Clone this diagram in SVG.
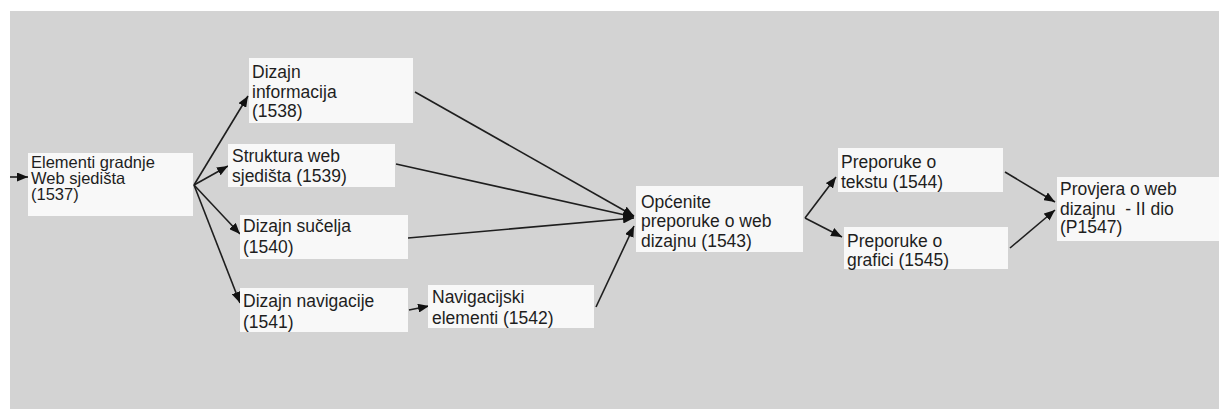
<svg xmlns="http://www.w3.org/2000/svg" width="1219" height="409" viewBox="0 0 1219 409">
<defs>
<style>
.bg{fill:#d3d3d3}
.n{fill:#f8f8f8}
.t{font-family:"Liberation Sans",Arial,sans-serif;font-size:17.5px;fill:#1e1e1e}
.c{stroke:#1e1e1e;stroke-width:1.6;fill:none;marker-end:url(#ah)}
</style>
<marker id="ah" viewBox="0 0 11 9" refX="11" refY="4.5" markerWidth="11" markerHeight="9" markerUnits="userSpaceOnUse" orient="auto">
<path d="M0,0 L11,4.5 L0,9 Z" fill="#111"/>
</marker>
</defs>
<rect x="0" y="0" width="1219" height="409" fill="#ffffff"/>
<rect class="bg" x="10" y="11" width="1209" height="398"/>

<g id="connectors">
<line class="c" x1="10" y1="177" x2="28" y2="177"/>
<line class="c" x1="194" y1="185" x2="248" y2="96"/>
<line class="c" x1="194" y1="185" x2="228" y2="166"/>
<line class="c" x1="194" y1="185" x2="240" y2="234"/>
<line class="c" x1="194" y1="185" x2="240" y2="303"/>
<line class="c" x1="409" y1="310" x2="429" y2="306"/>
<line class="c" x1="415" y1="92" x2="634" y2="216"/>
<line class="c" x1="396" y1="164" x2="634" y2="217"/>
<line class="c" x1="408" y1="238" x2="634" y2="218"/>
<line class="c" x1="596" y1="307" x2="634" y2="226"/>
<line class="c" x1="805" y1="218" x2="836" y2="177"/>
<line class="c" x1="805" y1="218" x2="842" y2="237"/>
<line class="c" x1="1005" y1="172" x2="1055" y2="202"/>
<line class="c" x1="1010" y1="248" x2="1055" y2="210"/>
</g>

<g id="n1537">
<rect class="n" x="28" y="153" width="165" height="63"/>
<text class="t" x="31" y="168" style="font-size:16.5px">Elementi gradnje</text>
<text class="t" x="31" y="184" style="font-size:16.5px">Web sjedišta</text>
<text class="t" x="31" y="200" style="font-size:16.5px">(1537)</text>
</g>
<g id="n1538">
<rect class="n" x="249" y="58" width="164" height="65"/>
<text class="t" x="252" y="78">Dizajn</text>
<text class="t" x="252" y="98">informacija</text>
<text class="t" x="252" y="117">(1538)</text>
</g>
<g id="n1539">
<rect class="n" x="228" y="144" width="167" height="43"/>
<text class="t" x="232" y="162">Struktura web</text>
<text class="t" x="232" y="182">sjedišta (1539)</text>
</g>
<g id="n1540">
<rect class="n" x="240" y="215" width="168" height="44"/>
<text class="t" x="243" y="232">Dizajn sučelja</text>
<text class="t" x="243" y="253">(1540)</text>
</g>
<g id="n1541">
<rect class="n" x="240" y="288" width="168" height="44"/>
<text class="t" x="243" y="307">Dizajn navigacije</text>
<text class="t" x="243" y="328">(1541)</text>
</g>
<g id="n1542">
<rect class="n" x="428" y="285" width="166" height="43"/>
<text class="t" x="432" y="303">Navigacijski</text>
<text class="t" x="432" y="324">elementi (1542)</text>
</g>
<g id="n1543">
<rect class="n" x="636" y="186" width="167" height="66"/>
<text class="t" x="641" y="208">Općenite</text>
<text class="t" x="641" y="227">preporuke o web</text>
<text class="t" x="641" y="247">dizajnu (1543)</text>
</g>
<g id="n1544">
<rect class="n" x="838" y="148" width="165" height="44"/>
<text class="t" x="841" y="168">Preporuke o</text>
<text class="t" x="841" y="188">tekstu (1544)</text>
</g>
<g id="n1545">
<rect class="n" x="844" y="227" width="164" height="42"/>
<text class="t" x="847" y="247">Preporuke o</text>
<text class="t" x="847" y="266">grafici (1545)</text>
</g>
<g id="n1547">
<rect class="n" x="1057" y="177" width="162" height="64"/>
<text class="t" x="1060" y="195">Provjera o web</text>
<text class="t" x="1060" y="215" xml:space="preserve">dizajnu  - II dio</text>
<text class="t" x="1060" y="233">(P1547)</text>
</g>
</svg>
